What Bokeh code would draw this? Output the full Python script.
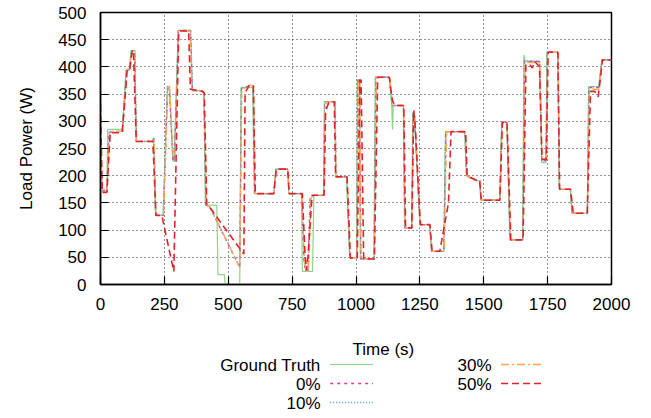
from bokeh.plotting import figure
from bokeh.layouts import column
from bokeh.models import Range1d, FixedTicker
from bokeh.core.properties import value
from bokeh.embed import file_html
from bokeh.resources import INLINE

FONT = "Liberation Sans"

x_ticks = [0, 250, 500, 750, 1000, 1250, 1500, 1750, 2000]
y_ticks = [0, 50, 100, 150, 200, 250, 300, 350, 400, 450, 500]

labels = ["Ground Truth", "0%", "10%", "30%", "50%"]

ground_truth = [(0, 285), (4, 170), (25, 170), (28, 285), (85, 285), (100, 395), (112, 395), (120, 430), (135, 430),
    (140, 263), (202, 263), (208, 270), (215, 127), (245, 127), (262, 364), (270, 364), (283, 227), (288, 227),
    (304, 467), (353, 467), (360, 356), (395, 356), (405, 352), (410, 146), (455, 146), (460, 18), (485, 18),
    (488, 0), (545, 0), (550, 362), (595, 362), (602, 167), (678, 167), (686, 212), (733, 212), (737, 167),
    (787, 167), (790, 24), (830, 24), (835, 164), (873, 164), (876, 336), (918, 336), (921, 198), (963, 198),
    (975, 49), (1002, 49), (1005, 376), (1013, 376), (1017, 47), (1070, 47), (1075, 381), (1130, 381),
    (1140, 329), (1143, 285), (1146, 329), (1185, 329), (1190, 104), (1218, 104), (1222, 316), (1228, 316),
    (1250, 110), (1288, 110), (1295, 61), (1343, 61), (1350, 281), (1425, 281), (1432, 200), (1450, 195),
    (1472, 191), (1485, 191), (1488, 155), (1562, 155), (1570, 298), (1590, 298), (1602, 82), (1652, 82),
    (1657, 422), (1662, 410), (1718, 410), (1727, 224), (1743, 224), (1747, 427), (1790, 427), (1795, 175),
    (1838, 175), (1845, 131), (1905, 131), (1910, 364), (1950, 364), (1962, 413), (2000, 413)]

noise_0 = [(0, 300), (6, 172), (24, 172), (33, 280), (86, 280), (102, 395), (114, 395), (122, 430), (133, 430),
    (140, 263), (203, 263), (209, 268), (216, 127), (246, 127), (263, 364), (269, 364), (284, 227), (289, 227),
    (305, 467), (352, 467), (359, 357), (397, 356), (404, 352), (413, 146), (428, 142), (545, 31), (552, 360),
    (578, 364), (584, 367), (598, 364), (603, 167), (679, 167), (687, 212), (733, 212), (738, 167), (788, 167),
    (796, 43), (802, 26), (812, 26), (820, 160), (836, 164), (874, 164), (878, 330), (890, 336), (918, 336),
    (922, 198), (964, 198), (976, 49), (1003, 49), (1008, 376), (1014, 376), (1019, 47), (1071, 47), (1078, 381),
    (1131, 381), (1142, 329), (1186, 329), (1191, 104), (1219, 104), (1224, 316), (1229, 310), (1250, 110),
    (1289, 110), (1296, 61), (1344, 61), (1352, 281), (1427, 281), (1433, 200), (1451, 195), (1473, 191),
    (1485, 191), (1489, 155), (1563, 155), (1571, 298), (1591, 298), (1603, 82), (1653, 82), (1660, 410),
    (1719, 410), (1727, 228), (1744, 228), (1749, 427), (1790, 427), (1796, 175), (1839, 175), (1846, 131),
    (1906, 131), (1912, 362), (1951, 362), (1963, 413), (2000, 413)]

noise_10 = [(0, 290), (6, 170), (26, 170), (34, 281), (85, 281), (101, 394), (113, 394), (121, 430), (134, 430),
    (141, 263), (203, 263), (209, 269), (216, 127), (245, 127), (262, 364), (269, 364), (283, 227), (289, 227),
    (304, 467), (352, 467), (360, 356), (396, 356), (405, 352), (413, 146), (429, 141), (545, 33), (551, 362),
    (577, 364), (583, 367), (599, 364), (604, 167), (678, 167), (687, 212), (734, 212), (738, 167), (788, 167),
    (797, 40), (803, 26), (813, 26), (822, 158), (836, 164), (874, 164), (877, 334), (918, 336), (921, 198),
    (964, 198), (976, 49), (1003, 49), (1007, 376), (1014, 376), (1018, 47), (1071, 47), (1077, 381),
    (1131, 381), (1141, 329), (1186, 329), (1191, 104), (1219, 104), (1223, 316), (1229, 312), (1251, 110),
    (1289, 110), (1296, 61), (1344, 61), (1351, 281), (1426, 281), (1433, 200), (1450, 195), (1473, 191),
    (1486, 191), (1489, 155), (1563, 155), (1571, 298), (1591, 298), (1603, 82), (1653, 82), (1659, 412),
    (1719, 410), (1728, 226), (1744, 226), (1748, 427), (1791, 427), (1796, 175), (1839, 175), (1846, 131),
    (1906, 131), (1911, 363), (1950, 363), (1963, 413), (2000, 413)]

noise_30 = [(0, 340), (5, 175), (26, 175), (36, 282), (87, 282), (104, 396), (115, 396), (123, 430), (132, 430),
    (141, 263), (204, 263), (210, 268), (217, 127), (247, 127), (264, 364), (270, 364), (285, 230), (291, 230),
    (306, 466), (350, 466), (358, 358), (399, 356), (405, 352), (415, 146), (430, 142), (545, 31), (553, 358),
    (578, 363), (585, 367), (600, 364), (605, 167), (679, 167), (688, 212), (734, 212), (739, 167), (789, 167),
    (798, 45), (805, 26), (814, 26), (824, 160), (837, 164), (875, 164), (879, 330), (892, 336), (918, 336),
    (922, 198), (965, 198), (977, 49), (1004, 49), (1010, 376), (1015, 376), (1020, 47), (1072, 47), (1080, 381),
    (1132, 381), (1144, 329), (1187, 329), (1192, 104), (1220, 104), (1225, 316), (1231, 305), (1251, 110),
    (1290, 110), (1297, 61), (1345, 61), (1355, 281), (1428, 281), (1434, 200), (1452, 195), (1474, 191),
    (1486, 191), (1490, 155), (1564, 155), (1572, 298), (1592, 298), (1605, 82), (1654, 82), (1662, 408),
    (1720, 408), (1728, 232), (1745, 232), (1750, 427), (1791, 427), (1797, 175), (1840, 175), (1848, 131),
    (1906, 131), (1914, 360), (1950, 358), (1964, 413), (2000, 413)]

noise_50 = [(0, 330), (7, 169), (25, 169), (38, 279), (85, 279), (105, 397), (115, 397), (124, 430), (129, 430),
    (140, 263), (205, 263), (217, 127), (240, 127), (287, 24), (306, 466), (345, 466), (352, 359), (400, 355),
    (406, 352), (416, 146), (430, 140), (561, 56), (566, 353), (575, 360), (583, 367), (598, 365), (606, 167),
    (678, 167), (688, 212), (733, 212), (738, 167), (790, 167), (800, 60), (806, 26), (812, 50), (828, 164),
    (875, 164), (881, 319), (895, 336), (915, 336), (920, 198), (965, 198), (978, 49), (1005, 49), (1015, 376),
    (1020, 376), (1030, 47), (1072, 47), (1085, 381), (1130, 381), (1142, 340), (1150, 329), (1187, 329),
    (1194, 104), (1218, 104), (1226, 320), (1232, 290), (1252, 110), (1289, 110), (1298, 61), (1328, 61),
    (1362, 150), (1372, 281), (1429, 281), (1435, 200), (1474, 191), (1484, 191), (1490, 155), (1563, 155),
    (1573, 298), (1591, 298), (1606, 82), (1654, 82), (1665, 404), (1680, 404), (1690, 398), (1700, 410),
    (1718, 400), (1728, 230), (1745, 230), (1752, 427), (1790, 427), (1797, 175), (1840, 175), (1850, 131),
    (1905, 131), (1918, 355), (1935, 355), (1948, 345), (1965, 413), (2000, 413)]

series = [ground_truth, noise_0, noise_10, noise_30, noise_50]
colors = ["#8fd48a", "#f0359a", "#4b9bd6", "#ffa54f", "#e0232b"]
dashes = ["solid", "3 4", "1 2", "8 3 2 3", "7 4"]
widths = [1.2, 1.3, 1.3, 1.3, 1.6]

p = figure(width=643, height=320, x_range=Range1d(0, 2000), y_range=Range1d(0, 500),
           output_backend="svg", toolbar_location=None,
           min_border_left=100, min_border_right=32, min_border_top=12, min_border_bottom=36)

for data, c, d, w in zip(series, colors, dashes, widths):
    p.line([t for t, _ in data], [v for _, v in data], line_color=c, line_dash=d, line_width=w)

p.xaxis.ticker = FixedTicker(ticks=x_ticks)
p.yaxis.ticker = FixedTicker(ticks=y_ticks)
for ax in (p.xaxis[0], p.yaxis[0]):
    ax.major_label_text_font = FONT
    ax.major_label_text_font_size = "17px"
    ax.major_label_text_color = "black"
    ax.major_tick_in = 8
    ax.major_tick_out = 0
    ax.minor_tick_in = 0
    ax.minor_tick_out = 0
    ax.axis_line_width = 1.5
    ax.major_tick_line_width = 1.2
    ax.axis_line_color = "black"
    ax.major_tick_line_color = "black"
p.xaxis.major_label_standoff = 13
p.yaxis.major_label_standoff = 14
p.yaxis.axis_label = "Load Power (W)"
p.yaxis.axis_label_text_font = FONT
p.yaxis.axis_label_text_font_size = "17px"
p.yaxis.axis_label_text_font_style = "normal"
p.yaxis.axis_label_text_color = "black"
p.yaxis.axis_label_standoff = 19

p.grid.grid_line_color = "black"
p.grid.grid_line_dash = "1 3"
p.grid.grid_line_width = 1
p.grid.grid_line_alpha = 0.85
p.outline_line_color = "black"
p.outline_line_width = 1.5
p.outline_line_alpha = 1

# legend / x-axis title panel
lg = figure(width=643, height=95, x_range=Range1d(0, 643), y_range=Range1d(95, 0),
            output_backend="svg", toolbar_location=None, min_border=0,
            x_axis_location=None, y_axis_location=None)
lg.grid.visible = False
lg.outline_line_color = None

lg.text(x=[356], y=[29], text=["Time (s)"], text_align="center", text_baseline="middle",
        text_font=value(FONT), text_font_size="17px", text_color="black")

text_x = [277, 277, 277, 492, 492]
line_x0 = [289, 289, 289, 504, 504]
rows = [44, 63, 82, 44, 63]
lg.text(x=text_x, y=[r + 1 for r in rows], text=labels, text_align="right", text_baseline="middle",
        text_font=value(FONT), text_font_size="17px", text_color="black")
for x0, r, c, d, w in zip(line_x0, rows, colors, dashes, widths):
    lg.line([x0, x0 + 54], [r, r], line_color=c, line_dash=d, line_width=w)

layout = column(p, lg, spacing=0)
open("out.html", "w").write(file_html(layout, INLINE))
